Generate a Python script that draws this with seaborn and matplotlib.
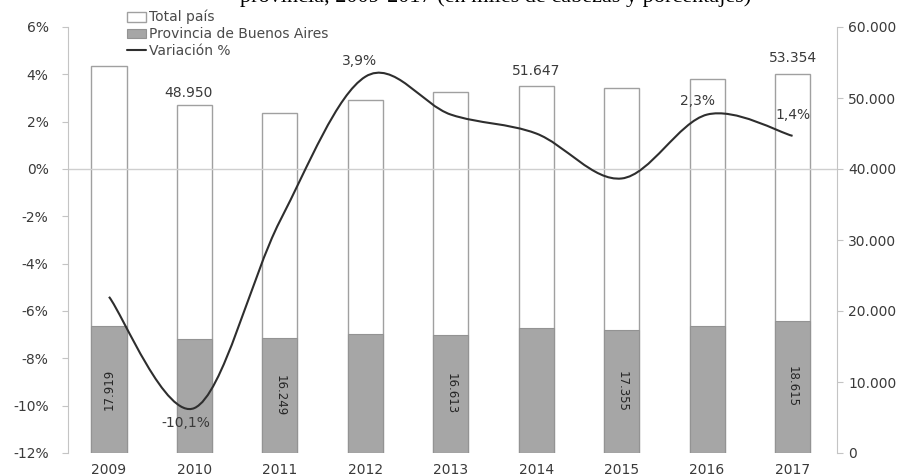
import numpy as np
import pandas as pd
import matplotlib
matplotlib.use("Agg")
import matplotlib.pyplot as plt
from matplotlib.path import Path
from matplotlib.patches import PathPatch, Patch
from matplotlib.lines import Line2D
from matplotlib.ticker import FuncFormatter, FixedLocator
import seaborn as sns

# Existencias: total del país y Provincia de Buenos Aires (miles de cabezas)
years = ["2009", "2010", "2011", "2012", "2013", "2014", "2015", "2016", "2017"]
total_pais = [54450, 48950, 47900, 49750, 50900, 51647, 51430, 52620, 53354]
provincia_ba = [17919, 16050, 16249, 16700, 16613, 17550, 17355, 17930, 18615]
variacion = [-5.4, -10.1, -2.2, 3.9, 2.3, 1.5, -0.4, 2.3, 1.4]

# Años que llevan etiqueta de valor
total_label_years = ["2010", "2014", "2017"]
prov_label_years = ["2009", "2011", "2013", "2015", "2017"]
var_label_years = ["2010", "2012", "2016", "2017"]

left_ticks = [-12, -10, -8, -6, -4, -2, 0, 2, 4, 6]
right_ticks = [0, 10000, 20000, 30000, 40000, 50000, 60000]

TEXT = "#3a3a3a"
AXIS_GREY = "#c4c4c4"
BAR_GREY = "#a6a6a6"
LINE_COL = "#2e2e2e"


def miles(v):
    return f"{int(round(v)):,}".replace(",", ".")


def pct(v):
    return f"{v:.1f}%".replace(".", ",")


sns.set_style("white")
plt.rcParams["font.family"] = ["DejaVu Sans"]

W, H = 906, 475
fig = plt.figure(figsize=(W / 100, H / 100), dpi=100)
x0, x1, y_top, y_bot = 68, 837, 27, 453
ax_bar = fig.add_axes([x0 / W, 1 - y_bot / H, (x1 - x0) / W, (y_bot - y_top) / H])

df = pd.DataFrame({"anio": years, "total": total_pais, "prov": provincia_ba})

# Barras: total país (blanca) y Provincia de Buenos Aires (gris), superpuestas
sns.barplot(data=df, x="anio", y="total", color="white", edgecolor="#a0a0a0",
            linewidth=1.0, width=0.41, saturation=1, ax=ax_bar, zorder=2)
sns.barplot(data=df, x="anio", y="prov", color=BAR_GREY, edgecolor="#939393",
            linewidth=0.8, width=0.41, saturation=1, ax=ax_bar, zorder=3)

ax_line = ax_bar.twinx()

ax_bar.set_xlim(-0.48, 8.52)
ax_bar.set_ylim(0, 60000)
ax_bar.yaxis.set_major_locator(FixedLocator(right_ticks))
ax_bar.yaxis.set_major_formatter(FuncFormatter(lambda v, p: miles(v)))
ax_bar.yaxis.set_ticks_position("right")
ax_bar.set_xlabel("")
ax_bar.set_ylabel("")

ax_line.set_ylim(-12, 6)
ax_line.yaxis.set_major_locator(FixedLocator(left_ticks))
ax_line.yaxis.set_major_formatter(FuncFormatter(lambda v, p: f"{int(round(v))}%"))
ax_line.yaxis.set_ticks_position("left")

for a in (ax_bar, ax_line):
    for s in ("top", "bottom", "left", "right"):
        a.spines[s].set_visible(False)
ax_bar.spines["right"].set_visible(True)
ax_bar.spines["right"].set_color(AXIS_GREY)
ax_line.spines["left"].set_visible(True)
ax_line.spines["left"].set_color(AXIS_GREY)

ax_bar.tick_params(axis="y", right=True, direction="out", length=4, width=0.8,
                   color=AXIS_GREY, labelsize=10, labelcolor=TEXT, pad=4)
ax_bar.tick_params(axis="x", length=0, labelsize=10, labelcolor=TEXT, pad=7)
ax_line.tick_params(axis="y", left=True, direction="out", length=4, width=0.8,
                    color=AXIS_GREY, labelsize=10, labelcolor=TEXT, pad=10)

# Línea de referencia en 0%
ax_line.axhline(0, color="#cfcfcf", lw=1.0, zorder=1)

# Variación %: curva suavizada (Bézier) que pasa por cada valor
xs = np.arange(len(years), dtype=float)
ys = np.asarray(variacion, dtype=float)
n = len(xs)
verts = [(xs[0], ys[0])]
codes = [Path.MOVETO]
for i in range(n - 1):
    ip, inx = max(i - 1, 0), min(i + 2, n - 1)
    c1 = (xs[i] + (xs[i + 1] - xs[ip]) / 6, ys[i] + (ys[i + 1] - ys[ip]) / 6)
    c2 = (xs[i + 1] - (xs[inx] - xs[i]) / 6, ys[i + 1] - (ys[inx] - ys[i]) / 6)
    verts += [c1, c2, (xs[i + 1], ys[i + 1])]
    codes += [Path.CURVE4] * 3
ax_line.add_patch(PathPatch(Path(verts, codes), facecolor="none",
                            edgecolor=LINE_COL, lw=1.5, zorder=4))

# Etiquetas de valores
total_off = {"2010": (-4, 9), "2014": (0, 11), "2017": (0, 12)}
for y in total_label_years:
    i = years.index(y)
    ax_bar.annotate(miles(total_pais[i]), (i, total_pais[i]),
                    xytext=total_off[y], textcoords="offset points",
                    ha="center", va="center", fontsize=10, color=TEXT, zorder=6)

for y in prov_label_years:
    i = years.index(y)
    rot = 90 if y == "2009" else 270
    ax_bar.text(i, provincia_ba[i] / 2, miles(provincia_ba[i]), rotation=rot,
                ha="center", va="center", fontsize=8.5, color="#262626", zorder=6)

var_off = {"2010": (-6, -11), "2012": (-4, 11), "2016": (-7, 10), "2017": (0, 15)}
for y in var_label_years:
    i = years.index(y)
    ax_line.annotate(pct(variacion[i]), (i, variacion[i]),
                     xytext=var_off[y], textcoords="offset points",
                     ha="center", va="center", fontsize=10, color=TEXT, zorder=6)

# Leyenda
handles = [
    Patch(facecolor="white", edgecolor="#a0a0a0", linewidth=1.0),
    Patch(facecolor=BAR_GREY, edgecolor="#939393", linewidth=0.8),
    Line2D([], [], color=LINE_COL, lw=1.5),
]
labels = ["Total país", "Provincia de Buenos Aires", "Variación %"]
fig.legend(handles, labels, loc="upper left", bbox_to_anchor=(127 / W, 1 - 10 / H),
           frameon=False, fontsize=10, labelcolor="#4a4a4a", handlelength=1.4,
           handleheight=0.7, handletextpad=0.2, labelspacing=0.2,
           borderaxespad=0, borderpad=0)

# Título (línea superior)
fig.text(240 / W, 1 - 2 / H,
         "provincia, 2009-2017 (en miles de cabezas y porcentajes)",
         family="Liberation Serif", fontsize=16, color="black", va="baseline", ha="left")

fig.savefig("out.png", dpi=100)
